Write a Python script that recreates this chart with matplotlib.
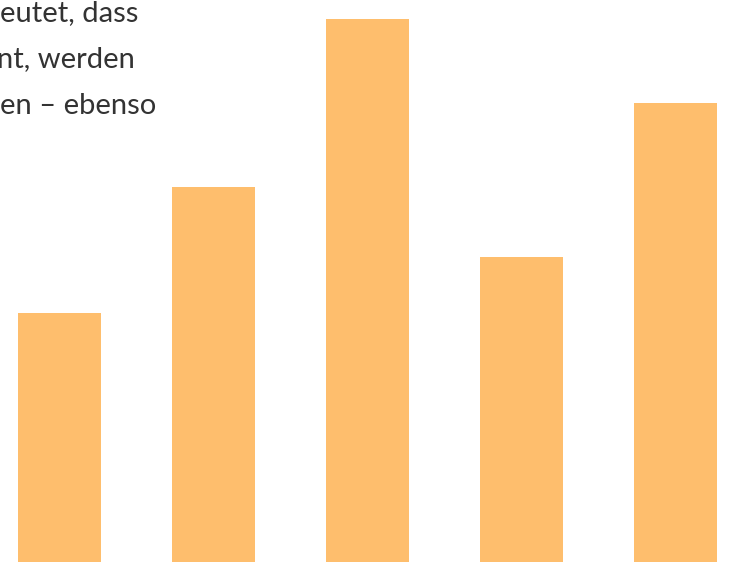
import matplotlib
matplotlib.use("Agg")
import matplotlib.pyplot as plt

# Bar data (in pixel-like units from the bottom edge)
categories = ["A", "B", "C", "D", "E"]
values = [249, 375, 543, 305, 459]

# Visible fragments of the caption text (cut off at the left edge)
text_lines = ["eutet, dass", "nt, werden", "en – ebenso"]

bar_color = "#FEBE6D"
text_color = "#333333"

plt.rcParams["font.family"] = ["Lato", "DejaVu Sans"]

fig = plt.figure(figsize=(7.31, 5.62), dpi=100)
ax = fig.add_axes([0, 0, 1, 1])

x = list(range(len(categories)))
ax.bar(x, values, width=0.539, color=bar_color)

ax.set_xlim(-0.386, 4.360)
ax.set_ylim(0, 562)
ax.axis("off")

# Caption lines, baseline positions in pixels from the top
baselines = [21, 67, 114]
x_starts = [0, -3, 0]
for line, base, x0 in zip(text_lines, baselines, x_starts):
    fig.text(x0 / 731, 1 - base / 562, line, fontsize=21, color=text_color,
             ha="left", va="baseline")

fig.savefig("out.png", dpi=100)
